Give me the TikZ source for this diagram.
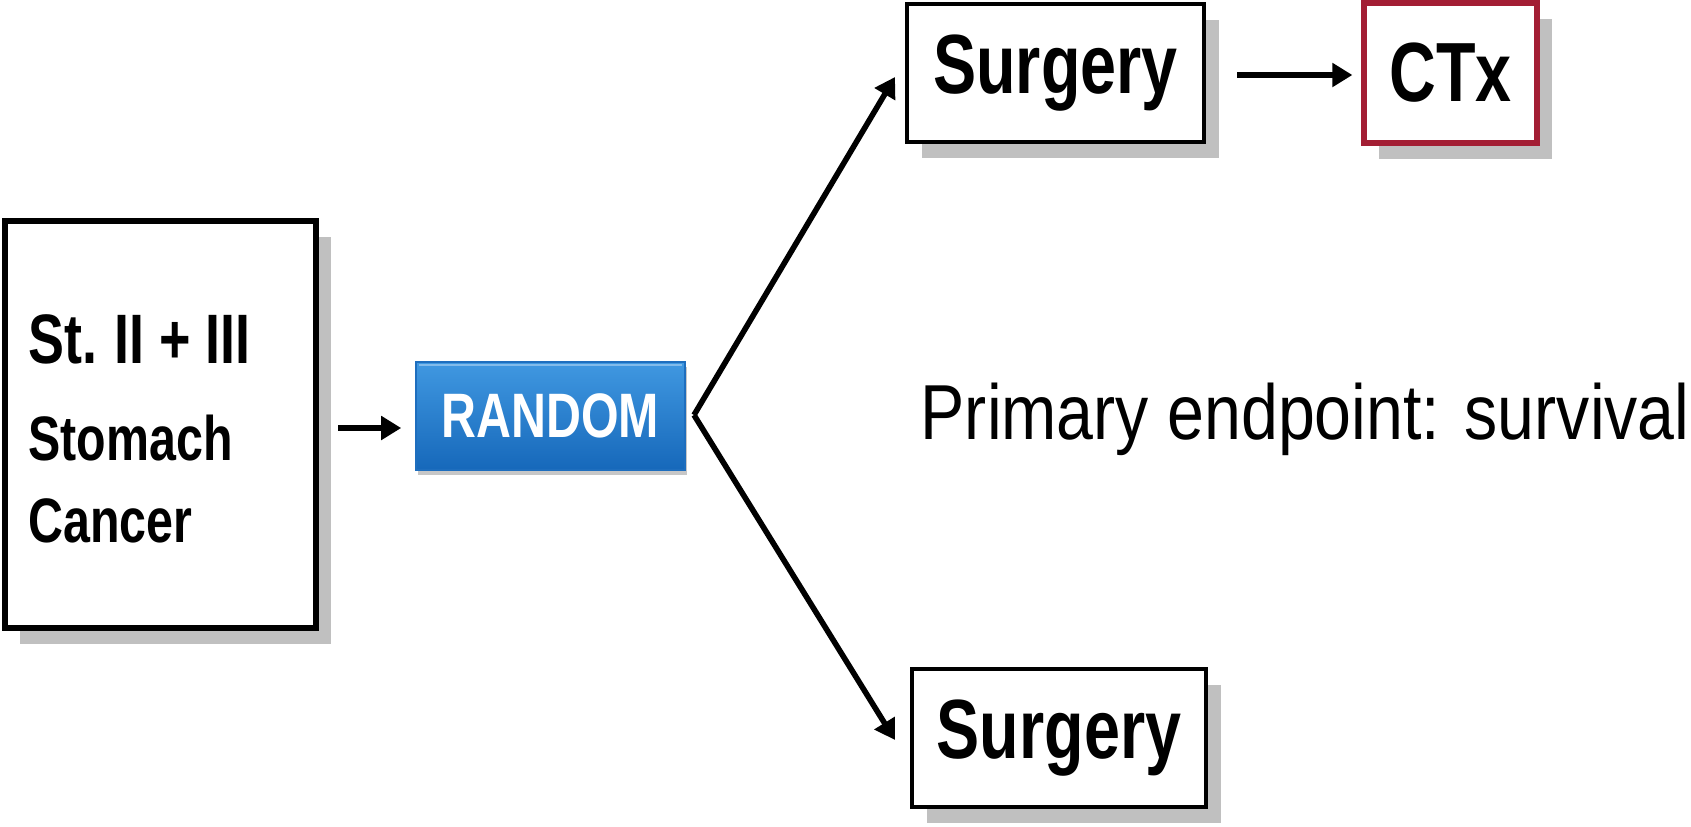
\documentclass[tikz,border=0pt]{standalone}
\usepackage{fontspec}
\setmainfont{Liberation Sans}
\newfontfamily\condb[FakeStretch=0.77]{Liberation Sans Bold}
\newfontfamily\condr[FakeStretch=0.85]{Liberation Sans}
\usetikzlibrary{arrows.meta,shadows}
\definecolor{shadowgray}{RGB}{192,192,192}
\definecolor{ctxred}{RGB}{163,30,52}
\definecolor{blueTop}{RGB}{64,152,225}
\definecolor{blueBot}{RGB}{22,104,186}
\definecolor{blueEdge}{RGB}{30,110,190}
\begin{document}
\begin{tikzpicture}[x=0.5pt,y=-0.5pt,
  boxshadow/.style={drop shadow={shadow xshift=7.5pt,shadow yshift=-8pt,fill=shadowgray,opacity=1}},
  whitebox/.style={draw=black,fill=white,line width=2pt,inner sep=0pt,boxshadow},
  arr/.style={line width=2.8pt,-{Triangle[length=10pt,width=11.5pt]}},
  bigtxt/.style={font=\condb\fontsize{42}{44}\selectfont}
]
\useasboundingbox (0,0) rectangle (1691,826);

% left box
\node[whitebox,line width=2.8pt,minimum width=155.5pt,minimum height=203.5pt] (stage) at (160.5,424.5) {};
\node[anchor=base west,inner sep=0pt,font=\condb\fontsize{35}{37}\selectfont] (st) at (28,363) {St.\hspace{-0.04em} II + III};
\node[anchor=base west,inner sep=0pt,font=\condb\fontsize{31.4}{33}\selectfont] (stom) at (28,460) {Stomach};
\node[anchor=base west,inner sep=0pt,font=\condb\fontsize{31.4}{33}\selectfont] (canc) at (28,542) {Cancer};

% random
\node[draw=blueEdge,line width=0.8pt,top color=blueTop,bottom color=blueBot,
      minimum width=134.5pt,minimum height=54pt,inner sep=0pt,
      drop shadow={shadow xshift=1pt,shadow yshift=-2.5pt,fill=black,opacity=0.22},
      text=white,font=\condb\fontsize{31.4}{33}\selectfont] (random) at (550.5,416) {RANDOM};
\draw[white,opacity=0.35,line width=1pt] ([shift={(4,4)}]random.north west) -- ([shift={(-4,4)}]random.north east);

% surgery boxes
\node[whitebox,minimum width=148.5pt,minimum height=69pt,bigtxt] (surg1) at (1055.5,73) {Surgery};
\node[whitebox,draw=ctxred,line width=2.6pt,minimum width=86.5pt,minimum height=70pt,bigtxt] (ctx) at (1450.5,73) {CTx};
\node[whitebox,minimum width=147pt,minimum height=69pt,bigtxt] (surg2) at (1059,738) {Surgery};

% endpoint text
\node[anchor=base east,inner sep=0pt,font=\condr\fontsize{39}{41}\selectfont] (prim) at (1690,439) {Primary endpoint: survival};

% connectors
\coordinate (a0) at (338,428);
\coordinate (split) at (694,415);
\coordinate (tipup) at (895,77);
\coordinate (tipdown) at (895,740);
\draw[arr,shorten >=7pt] (a0) -- (a0 -| random.west);
\draw[arr] (split) -- (tipup);
\draw[arr] (split) -- (tipdown);
\draw[arr,shorten <=15.5pt,shorten >=4.5pt] (surg1.east |- 0,75) -- (ctx.west |- 0,75);
\end{tikzpicture}
\end{document}
